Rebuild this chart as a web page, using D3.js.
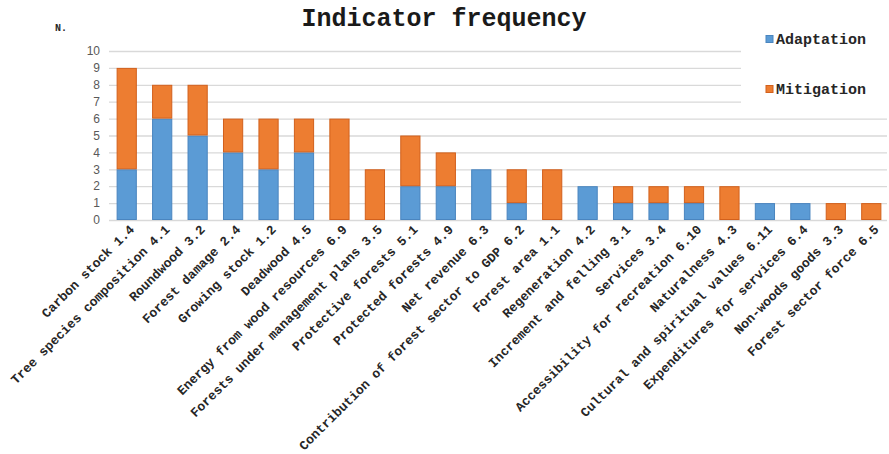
<!DOCTYPE html>
<html><head><meta charset="utf-8">
<script src="https://cdn.jsdelivr.net/npm/d3@7"></script>
<style>
body{margin:0;background:#fff;}
svg{display:block;}
</style></head>
<body>
<svg id="chart" width="889" height="454"></svg>
<script>
const categories = ["Carbon stock 1.4","Tree species composition 4.1","Roundwood 3.2","Forest damage 2.4","Growing stock 1.2","Deadwood 4.5","Energy from wood resources 6.9","Forests under management plans 3.5","Protective forests 5.1","Protected forests 4.9","Net revenue 6.3","Contribution of forest sector to GDP 6.2","Forest area 1.1","Regeneration 4.2","Increment and felling 3.1","Services 3.4","Accessibility for recreation 6.10","Naturalness 4.3","Cultural and spiritual values 6.11","Expenditures for services 6.4","Non-woods goods 3.3","Forest sector force 6.5"];
const adaptation = [3,6,5,4,3,4,0,0,2,2,3,1,0,2,1,1,1,0,1,1,0,0];
const mitigation = [6,2,3,2,3,2,6,3,3,2,0,2,3,0,1,1,1,2,0,0,1,1];
const seriesNames = ["Adaptation","Mitigation"];
const yTicks = [0,1,2,3,4,5,6,7,8,9,10];

const colors = {Adaptation:"#5b9bd5", Mitigation:"#ed7d31"};
const strokes = {Adaptation:"#4a85bf", Mitigation:"#d2601c"};
const svg = d3.select("#chart");
const mono = "'Liberation Mono','DejaVu Sans Mono',monospace";
const sans = "'Liberation Sans','DejaVu Sans',sans-serif";

const x = d3.scaleBand().domain(categories).range([109, 889]).paddingInner(0.43).paddingOuter(0.215);
const y = d3.scaleLinear().domain([0,10]).range([220, 51]);

const rows = categories.map((c,i)=>({cat:c, Adaptation:adaptation[i], Mitigation:mitigation[i]}));
const stacked = d3.stack().keys(seriesNames)(rows);

// gridlines
svg.append("g").selectAll("line").data(yTicks).join("line")
  .attr("x1",109).attr("x2",887)
  .attr("y1",d=>y(d)+0.5).attr("y2",d=>y(d)+0.5)
  .attr("stroke","#d9d9d9").attr("stroke-width",1.3);

// y tick labels
svg.append("g").selectAll("text").data(yTicks).join("text")
  .attr("x",100).attr("y",d=>y(d)).attr("dy","0.35em")
  .attr("text-anchor","end")
  .attr("font-family",sans).attr("font-size",12).attr("fill","#595959")
  .text(d=>d);

// bars
svg.append("g").selectAll("g").data(stacked).join("g")
  .attr("fill",d=>colors[d.key]).attr("stroke",d=>strokes[d.key]).attr("stroke-width",1)
  .selectAll("rect").data(d=>d.filter(s=>s[1]-s[0]>0)).join("rect")
  .attr("x",d=>x(d.data.cat)+0.5)
  .attr("width",x.bandwidth()-1)
  .attr("y",d=>y(d[1])+0.5)
  .attr("height",d=>y(d[0])-y(d[1])-1);

// x labels
svg.append("g").selectAll("text").data(categories).join("text")
  .attr("transform",d=>`translate(${x(d)+x.bandwidth()/2+5},${227}) rotate(-45)`)
  .attr("text-anchor","end").attr("dy","0.35em")
  .attr("font-family",mono).attr("font-weight","bold").attr("font-size",13).attr("fill","#262626")
  .text(d=>d);

// legend background
svg.append("rect").attr("x",741).attr("y",30).attr("width",146).attr("height",80).attr("fill","#fff");
const leg = svg.append("g").selectAll("g").data(seriesNames).join("g")
  .attr("transform",(d,i)=>`translate(766,${39+i*50})`);
leg.append("rect").attr("x",0).attr("y",-3.5).attr("width",7).attr("height",7)
  .attr("fill",d=>colors[d]).attr("stroke",d=>strokes[d]);
leg.append("text").attr("x",10).attr("dy","0.35em")
  .attr("font-family",mono).attr("font-weight","bold").attr("font-size",15).attr("fill","#262626")
  .text(d=>d);

// title
svg.append("text").attr("x",444).attr("y",26).attr("text-anchor","middle")
  .attr("font-family",mono).attr("font-weight","bold").attr("font-size",25).attr("fill","#1a1a1a")
  .text("Indicator frequency");
svg.append("text").attr("x",55).attr("y",31)
  .attr("font-family",mono).attr("font-weight","bold").attr("font-size",10).attr("fill","#262626")
  .text("N.");
</script>
</body></html>
